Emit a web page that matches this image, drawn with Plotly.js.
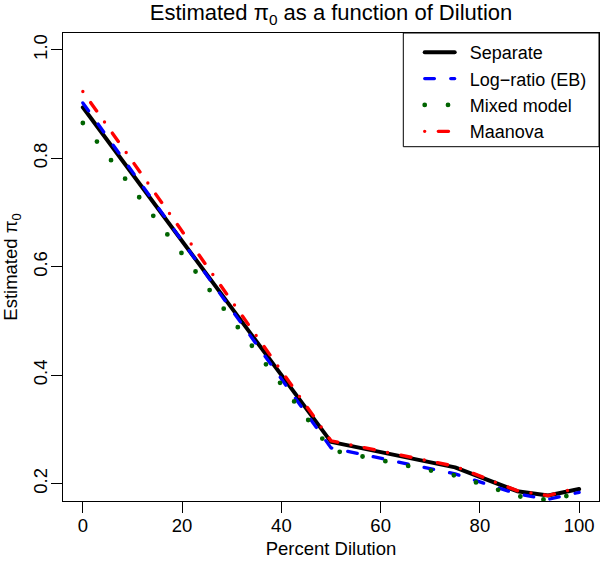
<!DOCTYPE html>
<html><head><meta charset="utf-8">
<script src="https://cdn.plot.ly/plotly-3.0.1.min.js"></script>
<style>
html,body{margin:0;padding:0;background:#fff;}
#chart{width:600px;height:561px;}
path.js-line{stroke-linecap:round !important;stroke-linejoin:round !important;}
</style>
</head><body><div id="chart"></div>
<script>
const dilution   = [0, 50, 75, 87.5, 93.75, 100];
const separate   = [0.894, 0.277, 0.230, 0.186, 0.178, 0.190];
const logRatioEB = [0.902, 0.266, 0.218, 0.181, 0.171, 0.184];
const mixedModel = [0.865, 0.262, 0.215, 0.177, 0.170, 0.182];
const maanova    = [0.923, 0.279, 0.232, 0.187, 0.178, 0.193];
const seriesNames = ['Separate', 'Log\u2212ratio (EB)', 'Mixed model', 'Maanova'];
const xTicks = [0, 20, 40, 60, 80, 100];
const yTicks = [0.2, 0.4, 0.6, 0.8, 1.0];
const yTickText = ['0.2', '0.4', '0.6', '0.8', '1.0'];

const FONT = 'Liberation Sans, Arial, Helvetica, sans-serif';
const PAD = '\u00a0\u00a0';

const traces = [
  {x: dilution, y: separate, name: PAD + seriesNames[0], mode: 'lines',
   line: {color: '#000000', width: 4}},
  {x: dilution, y: logRatioEB, name: PAD + seriesNames[1], mode: 'lines',
   line: {color: '#0000FF', width: 3.3, dash: '9.7px,16.3px'}},
  {x: dilution, y: mixedModel, name: PAD + seriesNames[2], mode: 'lines',
   line: {color: '#006400', width: 4.8, dash: '0px,23.3px'}},
  {x: dilution, y: maanova, name: PAD + seriesNames[3], mode: 'lines',
   line: {color: '#FF0000', width: 3.4, dash: '0px,13.6px,10.2px,13.6px'}}
];

const axisCommon = {
  showgrid: false, zeroline: false, showline: true, mirror: true,
  linecolor: '#000', linewidth: 1, ticks: 'outside', ticklen: 11,
  tickcolor: '#000', tickwidth: 1,
  tickfont: {family: FONT, size: 18.5, color: '#000'}
};

const layout = {
  width: 600, height: 561,
  margin: {l: 63, r: 1, t: 33, b: 60},
  paper_bgcolor: '#fff', plot_bgcolor: '#fff',
  font: {family: FONT, color: '#000'},
  title: {text: 'Estimated \u03c0<sub>0</sub> as a function of Dilution',
          font: {family: FONT, size: 22, color: '#000'},
          x: 0.5517, xanchor: 'center', y: 0.978, yanchor: 'middle', yref: 'container'},
  xaxis: Object.assign({}, axisCommon, {
    range: [-4, 104], tickvals: xTicks, ticklabelstandoff: -3,
    title: {text: 'Percent Dilution', font: {family: FONT, size: 18.5, color: '#000'}, standoff: 6}
  }),
  yaxis: Object.assign({}, axisCommon, {
    range: [0.168, 1.031], tickvals: yTicks, ticktext: yTickText, tickangle: -90,
    ticklabelstandoff: -3,
    title: {text: 'Estimated \u03c0<sub>0</sub>', font: {family: FONT, size: 18.5, color: '#000'}, standoff: 12}
  }),
  showlegend: true,
  legend: {
    x: 0.6655, xanchor: 'left', y: 0.998, yanchor: 'top',
    bgcolor: 'rgba(0,0,0,0)', borderwidth: 0,
    font: {family: FONT, size: 18, color: '#000'},
    itemwidth: 30, tracegroupgap: 0
  },
  shapes: [{
    type: 'rect', xref: 'paper', yref: 'paper',
    x0: (403.3 - 63) / 536, x1: 1, y0: 1 - (146.7 - 33) / 468, y1: 1,
    line: {color: '#000', width: 1}, fillcolor: 'rgba(0,0,0,0)', layer: 'above'
  }]
};

Plotly.newPlot('chart', traces, layout, {displayModeBar: false, staticPlot: true});
</script>
</body></html>
